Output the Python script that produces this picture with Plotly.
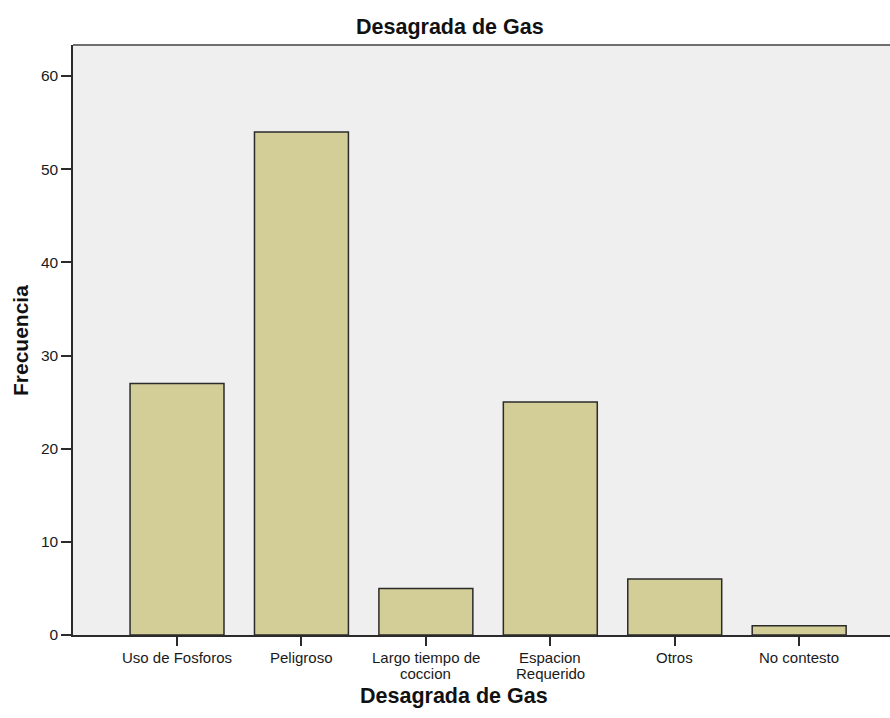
import plotly.graph_objects as go

categories = ["Uso de Fosforos", "Peligroso", "Largo tiempo de\ncoccion",
              "Espacion\nRequerido", "Otros", "No contesto"]
frecuencia = [27, 54, 5, 25, 6, 1]
y_ticks = [0, 10, 20, 30, 40, 50, 60]

W, H = 890, 718
L, R, T, B = 73, 0, 45, 83
FONT = "Liberation Sans, Arial, sans-serif"

xs = list(range(len(categories)))

fig = go.Figure()
fig.add_trace(go.Bar(
    x=xs, y=frecuencia, width=0.755,
    marker=dict(color="#D3CE97", line=dict(color="#2b2b2b", width=1.5)),
    hoverinfo="y",
))

# category labels, one annotation per line
for i, lab in enumerate(categories):
    for j, line in enumerate(lab.split("\n")):
        fig.add_annotation(x=i, y=0, xref="x", yref="y", text=line,
                           showarrow=False, yanchor="middle", borderpad=0,
                           yshift=-22 - j * 16,
                           font=dict(family=FONT, size=15, color="#1a1a1a"))

fig.add_annotation(text="<b>Frecuencia</b>", textangle=-90,
                   xref="paper", yref="paper", x=(20 - L) / (W - L - R), y=0.5,
                   xanchor="center", yanchor="middle", showarrow=False,
                   font=dict(family=FONT, size=21, color="#111"))
fig.add_annotation(text="<b>Desagrada de Gas</b>",
                   xref="paper", yref="paper", x=(454 - L) / (W - L - R),
                   y=-(696 - (H - B)) / (H - T - B),
                   xanchor="center", yanchor="middle", showarrow=False,
                   font=dict(family=FONT, size=21.5, color="#111"))
fig.add_annotation(text="<b>Desagrada de Gas</b>",
                   xref="paper", yref="paper", x=(450 - L) / (W - L - R),
                   y=1 + (T - 27) / (H - T - B),
                   xanchor="center", yanchor="middle", showarrow=False,
                   font=dict(family=FONT, size=21.5, color="#111"))

fig.add_shape(type="line", xref="paper", yref="paper", x0=0, x1=1, y0=1, y1=1,
              line=dict(color="#6e6e6e", width=2))

fig.update_layout(
    width=W, height=H,
    margin=dict(l=L, r=R, t=T, b=B, pad=0),
    paper_bgcolor="white", plot_bgcolor="#EFEFEF",
    showlegend=False,
    xaxis=dict(range=[-0.836, 5.73], tickvals=xs, showticklabels=False,
               ticks="outside", ticklen=9, tickwidth=1.5, tickcolor="#2b2b2b",
               showline=True, linecolor="#2b2b2b", linewidth=1.5,
               showgrid=False, zeroline=False, fixedrange=True),
    yaxis=dict(range=[0, 63.33], tickvals=y_ticks, ticks="outside", ticklen=10,
               tickwidth=1.5, tickcolor="#2b2b2b",
               tickfont=dict(family=FONT, size=15.5, color="#1a1a1a"),
               showline=True, linecolor="#2b2b2b", linewidth=1.5,
               showgrid=False, zeroline=False, fixedrange=True),
)

fig.write_html(
    "out.html",
    config={"displayModeBar": False},
    post_script="document.body.style.margin='0';document.body.style.overflow='hidden';",
)
